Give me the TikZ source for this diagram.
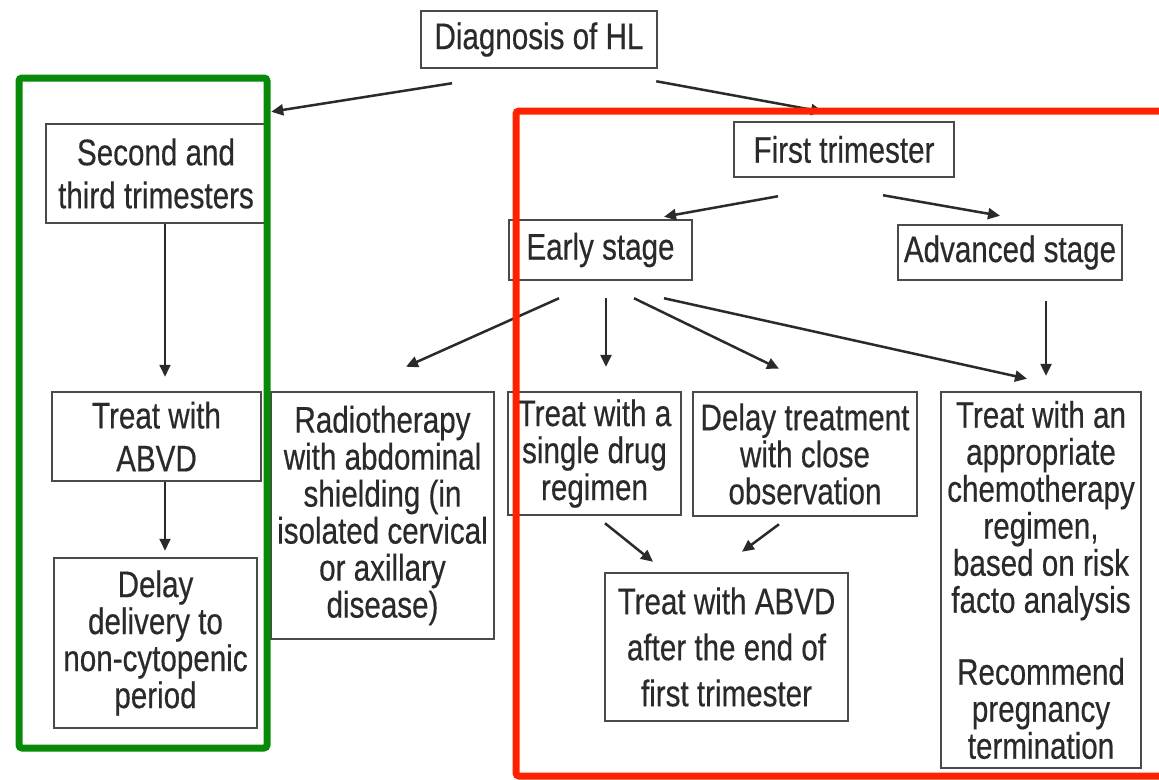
\documentclass[tikz,border=0pt]{standalone}
\usepackage{fontspec}
\setmainfont{Liberation Sans}[FakeStretch=0.8, FakeBold=0.4]
\usetikzlibrary{arrows.meta}
\definecolor{boxgray}{HTML}{4A4A4A}
\definecolor{txtgray}{HTML}{2A2A2A}
\definecolor{hlgreen}{HTML}{078A07}
\definecolor{hlred}{HTML}{FF2200}
\begin{document}
\begin{tikzpicture}[x=1pt,y=-1pt,
  box/.style={draw=boxgray, line width=2.5pt, inner sep=0pt, align=center,
    text=txtgray, font=\fontsize{37}{37}\selectfont},
  arr/.style={draw=txtgray, line width=2.5pt, -{Triangle[length=12pt,width=11pt]}},
  thinarr/.style={draw=txtgray, line width=1.8pt, -{Triangle[length=12pt,width=11pt]}},
  frame/.style={line width=7pt, rounded corners=3pt}]
\useasboundingbox (0,0) rectangle (1159,779);
\fill[white] (0,0) rectangle (1159,779);

% nodes
\node[box, minimum width=236pt, minimum height=57pt] (diag) at (539,39.5) {Diagnosis of HL};
\node[box, minimum width=220pt, minimum height=99pt, font=\fontsize{37}{43}\selectfont] (second) at (156,173.5) {Second and\\third trimesters};
\node[box, minimum width=220pt, minimum height=55pt] (first) at (844,149.5) {First trimester};
\node[box, minimum width=183pt, minimum height=60pt] (early) at (600.5,250) {Early stage};
\node[box, minimum width=224pt, minimum height=55pt] (adv) at (1010,252.5) {Advanced stage};
\node[box, minimum width=209pt, minimum height=89pt, font=\fontsize{37}{43}\selectfont] (treat1) at (156.5,436.5) {Treat with\\ABVD};
\node[box, minimum width=203pt, minimum height=170pt] (delay1) at (155.5,643) {Delay\\delivery to\\non-cytopenic\\period};
\node[box, minimum width=223pt, minimum height=247pt] (radio) at (382.5,515.5) {Radiotherapy\\with abdominal\\shielding (in\\isolated cervical\\or axillary\\disease)};
\node[box, minimum width=173pt, minimum height=123pt] (single) at (594.5,453.5) {Treat with a\\single drug\\regimen};
\node[box, minimum width=224pt, minimum height=124pt] (delayT) at (805,454) {Delay treatment\\with close\\observation};
\node[box, minimum width=243pt, minimum height=148pt, font=\fontsize{37}{46}\selectfont] (abvd2) at (726.5,647) {Treat with ABVD\\after the end of\\first trimester};
\node[box, minimum width=200pt, minimum height=376pt] (approp) at (1041,580) {Treat with an\\appropriate\\chemotherapy\\regimen,\\based on risk\\facto analysis\\[35pt]Recommend\\pregnancy\\termination};

% connectors
\draw[arr] ([shift={(-87,14)}]diag.south) -- ([shift={(4,-11)}]second.north east);
\draw[arr] ([shift={(-2,12)}]diag.south east) -- ([shift={(-21,-9)}]first.north);
\draw[arr] ([shift={(-66,18)}]first.south) -- ([shift={(63.5,-2)}]early.north);
\draw[arr] ([shift={(39,17)}]first.south) -- ([shift={(-10,-8)}]adv.north);
\draw[arr] ([shift={(-41.5,17)}]early.south) -- ([shift={(23.5,-24)}]radio.north);
\draw[arr] ([shift={(5.5,17)}]early.south) -- ([shift={(11.5,-24)}]single.north);
\draw[arr] ([shift={(33.5,17)}]early.south) -- ([shift={(-26,-22)}]delayT.north);
\draw[arr] ([shift={(63.5,17)}]early.south) -- ([shift={(-14,-12)}]approp.north);
\draw[arr] ([shift={(36,20)}]adv.south) -- ([shift={(5,-15)}]approp.north);
\draw[thinarr] ([shift={(9,0)}]second.south) -- ([shift={(8.5,-14)}]treat1.north);
\draw[thinarr] ([shift={(8.5,0)}]treat1.south) -- ([shift={(9.5,-6)}]delay1.north);
\draw[arr] ([shift={(10.5,7)}]single.south) -- ([shift={(-73.5,-10)}]abvd2.north);
\draw[arr] ([shift={(-26,7)}]delayT.south) -- ([shift={(15.5,-20)}]abvd2.north);

% highlight frames
\draw[hlgreen, frame] (19,78) rectangle (267,748);
\draw[hlred, frame] (1175,111) -- (516,111) -- (516,776) -- (1175,776);
\end{tikzpicture}
\end{document}
